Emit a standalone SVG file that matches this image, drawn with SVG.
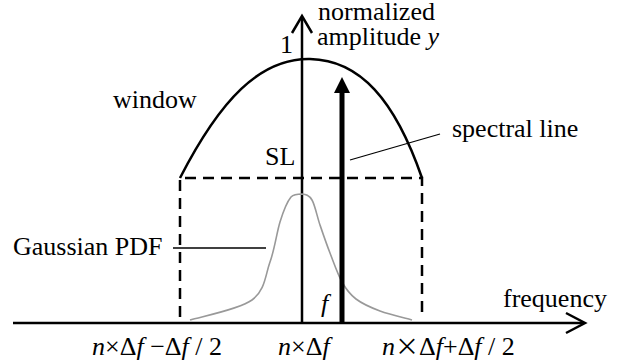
<svg xmlns="http://www.w3.org/2000/svg" width="621" height="364" viewBox="0 0 621 364">
<style>
text{font-family:'Liberation Serif','DejaVu Serif','Times New Roman',serif;font-size:26px;fill:#000}
.i{font-style:italic}
.ax{stroke:#000;stroke-width:2.5;fill:none}
.dash{stroke:#000;stroke-width:2.5;fill:none;stroke-dasharray:11 7}
.thin{stroke:#000;stroke-width:1.3;fill:none}
</style>
<rect width="621" height="364" fill="#fff"/>
<g id="connectors">
<path class="ax" d="M13,323 H584"/>
<path class="ax" d="M566,313 L585,323 L566,333"/>
<path class="ax" d="M302,323 V17"/>
<path class="ax" d="M292,33 L302,16 L312,33"/>
<path class="thin" d="M350,160 L440,134"/>
<path class="thin" d="M173,248 H266"/>
</g>
<g id="window">
<path class="ax" d="M180,178 C220,100 260,58 310,59 C360,60 395,100 422,178"/>
<path class="dash" d="M180,317 V178 H422 V317"/>
</g>
<g id="gaussian">
<path fill="none" stroke="#999" stroke-width="1.6" d="M190,320 C200.3,316.7 238.7,309.7 252,300 C265.3,290.3 265.3,275 270,262 C274.7,249 276.7,232.7 280,222 C283.3,211.3 286.3,202.7 291,197 C294,194 298.3,194 302,194 C305.7,194.3 309,194.8 312,200 C315,205.2 317,216.2 320,225 C323,233.8 326.3,243.5 330,253 C333.7,262.5 337.7,274.3 342,282 C346.3,289.7 349.7,294.2 356,299 C362.3,303.8 370.7,307.5 380,311 C389.3,314.5 406.7,318.5 412,320"/>
</g>
<g id="spectral-line">
<path stroke="#000" stroke-width="5" d="M342,323 V90"/>
<polygon points="342,77 334,93 350,93" fill="#000"/>
</g>
<g id="labels" font-family="Liberation Serif, DejaVu Serif, serif">
<text x="318" y="20" font-size="25">normalized</text>
<text x="317" y="45" font-size="25">amplitude <tspan class="i">y</tspan></text>
<text x="280" y="53">1</text>
<text x="113" y="108">window</text>
<text x="265" y="165">SL</text>
<text x="452" y="137">spectral line</text>
<text x="13" y="255">Gaussian PDF</text>
<text x="321" y="312" class="i">f</text>
<text x="503" y="307">frequency</text>
<text x="92" y="355"><tspan class="i">n</tspan>×Δ<tspan class="i">f</tspan> −Δ<tspan class="i">f</tspan> / 2</text>
<text x="278" y="355"><tspan class="i">n</tspan>×Δ<tspan class="i">f</tspan></text>
<text x="382" y="355"><tspan class="i">n</tspan><tspan font-family="Noto Sans CJK SC,sans-serif" font-size="24">×</tspan>Δ<tspan class="i">f</tspan>+Δ<tspan class="i">f</tspan> / 2</text>
</g>
</svg>
